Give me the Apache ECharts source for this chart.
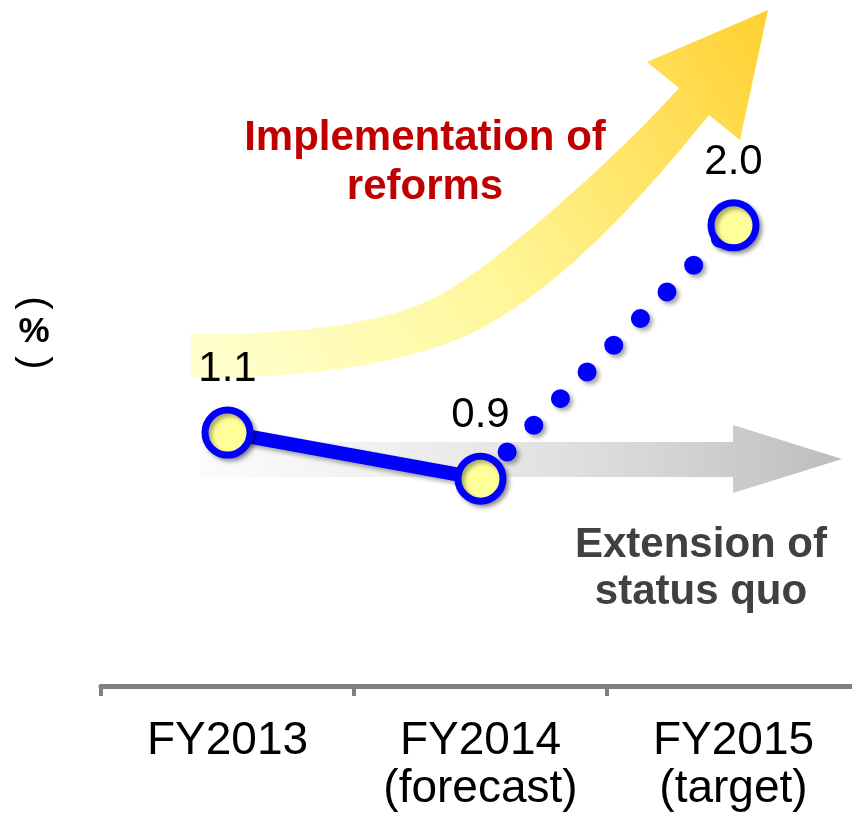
<!DOCTYPE html>
<html>
<head>
<meta charset="utf-8">
<script src="https://cdn.jsdelivr.net/npm/echarts@6/dist/echarts.min.js"></script>
<style>
html,body{margin:0;padding:0;background:#fff;}
#chart{width:852px;height:823px;}
</style>
</head>
<body>
<div id="chart"></div>
<script>
const categories = ['FY2013', 'FY2014\n(forecast)', 'FY2015\n(target)'];
const actualValues = [1.1, 0.9, null];
const targetValues = [null, 0.9, 2.0];
const unitLabel = '%';
const reformText = 'Implementation of\nreforms';
const statusQuoText = 'Extension of\nstatus quo';

const FONT = '"Liberation Sans", Arial, sans-serif';
const chart = echarts.init(document.getElementById('chart'), null, {renderer: 'canvas'});

const shadow = {shadowColor: 'rgba(0,0,0,0.35)', shadowBlur: 4, shadowOffsetX: 3, shadowOffsetY: 3};

// decorative curved arrow outline (sampled cubic segments)
function cubic(p0, p1, p2, p3, n) {
  const pts = [];
  for (let i = 0; i <= n; i++) {
    const t = i / n, u = 1 - t;
    pts.push([
      u*u*u*p0[0] + 3*u*u*t*p1[0] + 3*u*t*t*p2[0] + t*t*t*p3[0],
      u*u*u*p0[1] + 3*u*u*t*p1[1] + 3*u*t*t*p2[1] + t*t*t*p3[1]
    ]);
  }
  return pts;
}
const arrowPts = [].concat(
  cubic([191,334],[300,335],[380,323],[430,300], 20),
  cubic([430,300],[480,278],[610,165],[679,88], 30),
  [[647,62],[768,10],[740,140]],
  cubic([709,115],[640,200],[560,290],[470,334], 30),
  cubic([470,334],[400,366],[300,378],[191,378], 20)
);

const option = {
  animation: false,
  backgroundColor: '#ffffff',
  grid: {left: 101, width: 759, top: 18, bottom: 137, outerBoundsMode: 'none', containLabel: false},
  xAxis: {
    type: 'category',
    data: categories,
    boundaryGap: true,
    axisLine: {lineStyle: {color: '#808080', width: 5}},
    axisTick: {show: true, interval: 0, length: 10, lineStyle: {color: '#808080', width: 4}},
    axisLabel: {interval: 0, fontSize: 46, lineHeight: 48, color: '#000', margin: 31, fontFamily: FONT},
    splitLine: {show: false}
  },
  yAxis: {type: 'value', min: 0, max: 2.9, show: false, splitLine: {show: false}},
  graphic: {
    elements: [
      {
        type: 'polygon', z: 0,
        shape: {points: arrowPts},
        style: {
          fill: {type: 'linear', x: 0, y: 1, x2: 1, y2: 0, colorStops: [
            {offset: 0, color: 'rgba(255,255,195,0.8)'},
            {offset: 0.45, color: '#fff79a'},
            {offset: 1, color: '#ffd030'}
          ]}
        }
      },
      {
        type: 'polygon', z: 0,
        shape: {points: [[200,442],[733,442],[733,425],[842,459],[733,493],[733,477],[200,477]]},
        style: {
          fill: {type: 'linear', x: 0, y: 0, x2: 1, y2: 0, colorStops: [
            {offset: 0, color: 'rgba(245,245,245,0.4)'},
            {offset: 1, color: '#bcbcbc'}
          ]}
        }
      },
      {
        type: 'text', z: 100, x: 425, y: 163,
        style: {text: reformText, fill: '#c00000', font: 'bold 42px ' + FONT, align: 'center', verticalAlign: 'middle', lineHeight: 49}
      },
      {
        type: 'text', z: 100, x: 701, y: 569,
        style: {text: statusQuoText, fill: '#404040', font: 'bold 42px ' + FONT, align: 'center', verticalAlign: 'middle', lineHeight: 47}
      },
      {
        type: 'text', z: 100, x: 34, y: 303, rotation: -Math.PI / 2,
        style: {text: '(', fill: '#000', font: '40px ' + FONT, align: 'center', verticalAlign: 'middle'}
      },
      {
        type: 'text', z: 100, x: 34, y: 332,
        style: {text: unitLabel, fill: '#000', font: 'bold 35px ' + FONT, align: 'center', verticalAlign: 'middle'}
      },
      {
        type: 'text', z: 100, x: 34, y: 363, rotation: -Math.PI / 2,
        style: {text: ')', fill: '#000', font: '40px ' + FONT, align: 'center', verticalAlign: 'middle'}
      }
    ]
  },
  series: [
    {
      type: 'line',
      z: 2,
      data: targetValues.map((v, i) => (i === 1 ? {value: v, symbol: 'none', label: {show: false}} : v)),
      symbol: 'circle',
      symbolSize: 45,
      showAllSymbol: true,
      connectNulls: false,
      lineStyle: Object.assign({color: '#0000ff', width: 19, type: [0.01, 37.7], cap: 'round'}, shadow),
      itemStyle: Object.assign({color: '#ffff99', borderColor: '#0000ff', borderWidth: 7}, shadow),
      label: {show: true, position: 'top', distance: 16, fontSize: 42, color: '#000', fontFamily: FONT,
        formatter: p => Number(p.value).toFixed(1)},
      emphasis: {disabled: true}
    },
    {
      type: 'line',
      z: 3,
      data: actualValues,
      symbol: 'circle',
      symbolSize: 45,
      showAllSymbol: true,
      lineStyle: Object.assign({color: '#0000ff', width: 14}, shadow),
      itemStyle: Object.assign({color: '#ffff99', borderColor: '#0000ff', borderWidth: 7}, shadow),
      label: {show: true, position: 'top', distance: 16, fontSize: 42, color: '#000', fontFamily: FONT,
        formatter: p => Number(p.value).toFixed(1)},
      emphasis: {disabled: true}
    }
  ]
};
chart.setOption(option);
</script>
</body>
</html>
